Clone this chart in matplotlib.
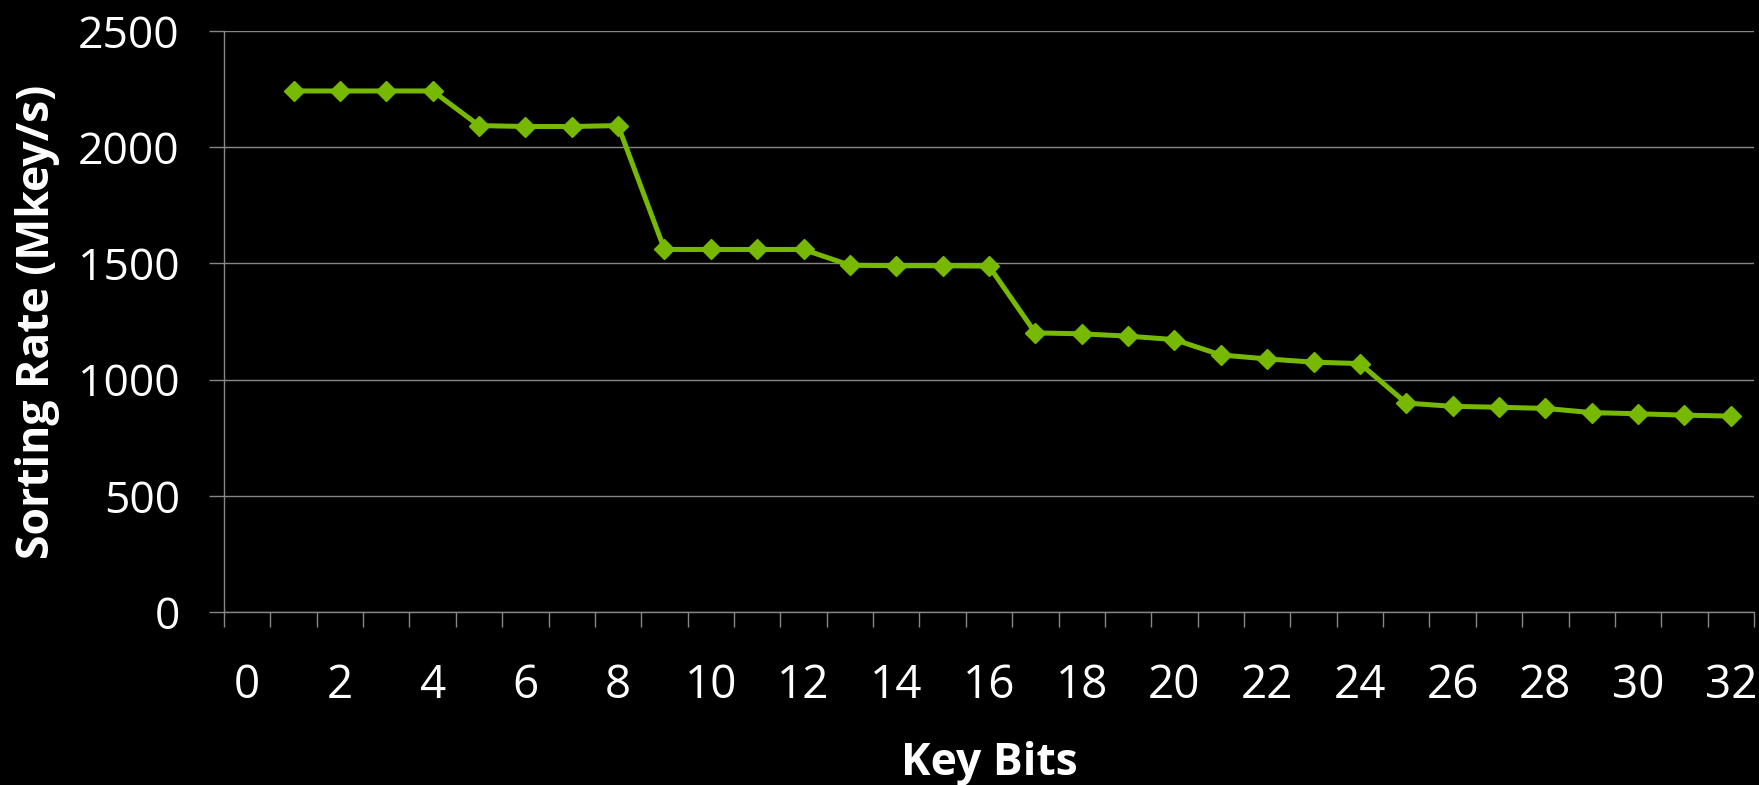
#!/usr/bin/env python3
"""Sorting rate vs key bits, black slide style."""

import matplotlib
matplotlib.use("Agg")
import matplotlib.pyplot as plt
import numpy as np

key_bits = list(range(1, 33))
sort_rate = [
    2242, 2242, 2242, 2242, 2093, 2089, 2089, 2093,
    1560, 1560, 1560, 1560, 1492, 1490, 1490, 1488,
    1201, 1197, 1187, 1172, 1106, 1089, 1075, 1069,
    899, 885, 881, 876, 858, 853, 847, 843,
]
x_labels = list(range(0, 33, 2))
y_ticks = [0, 500, 1000, 1500, 2000, 2500]

GREEN = "#76b900"
GREY = "#868686"

plt.rcParams["font.family"] = ["Open Sans", "DejaVu Sans"]

fig = plt.figure(figsize=(17.59, 7.85), dpi=100, facecolor="black")
ax = fig.add_axes([224 / 1759, 1 - 612 / 785, 1530 / 1759, 581 / 785])
ax.set_facecolor("black")

ax.plot(key_bits, sort_rate, color=GREEN, lw=3.6, marker="D", ms=10,
        mec=GREEN, mfc=GREEN, zorder=3)

ax.set_xlim(-0.5, 32.5)
ax.set_ylim(0, 2500)

ax.set_yticks(y_ticks)
ax.set_yticklabels([str(v) for v in y_ticks])
ax.set_xticks(x_labels)
ax.set_xticklabels([str(v) for v in x_labels])
ax.set_xticks(np.arange(-0.5, 33, 1), minor=True)

ax.tick_params(axis="y", which="major", colors=GREY, length=10.8, width=1.0,
               direction="out", pad=21, labelsize=32, labelcolor="white")
ax.tick_params(axis="x", which="major", length=0, pad=36.5,
               labelsize=33, labelcolor="white")
ax.tick_params(axis="x", which="minor", colors=GREY, length=10.8, width=1.0,
               direction="out")

ax.grid(axis="y", color=GREY, lw=1.0)
ax.set_axisbelow(True)

for side in ("top", "right"):
    ax.spines[side].set_visible(False)
for side in ("left", "bottom"):
    ax.spines[side].set_color(GREY)
    ax.spines[side].set_linewidth(1.0)

ax.set_xlabel("Key Bits", fontsize=32, fontweight="bold", color="white",
              va="baseline")
ax.xaxis.set_label_coords(0.5, (612 - 775) / 581)
ax.set_ylabel("Sorting Rate (Mkey/s)", fontsize=32, fontweight="bold",
              color="white", va="center")
ax.yaxis.set_label_coords((37 - 224) / 1530, 0.5)

fig.savefig("out.png", dpi=100, facecolor="black")
plt.close(fig)
